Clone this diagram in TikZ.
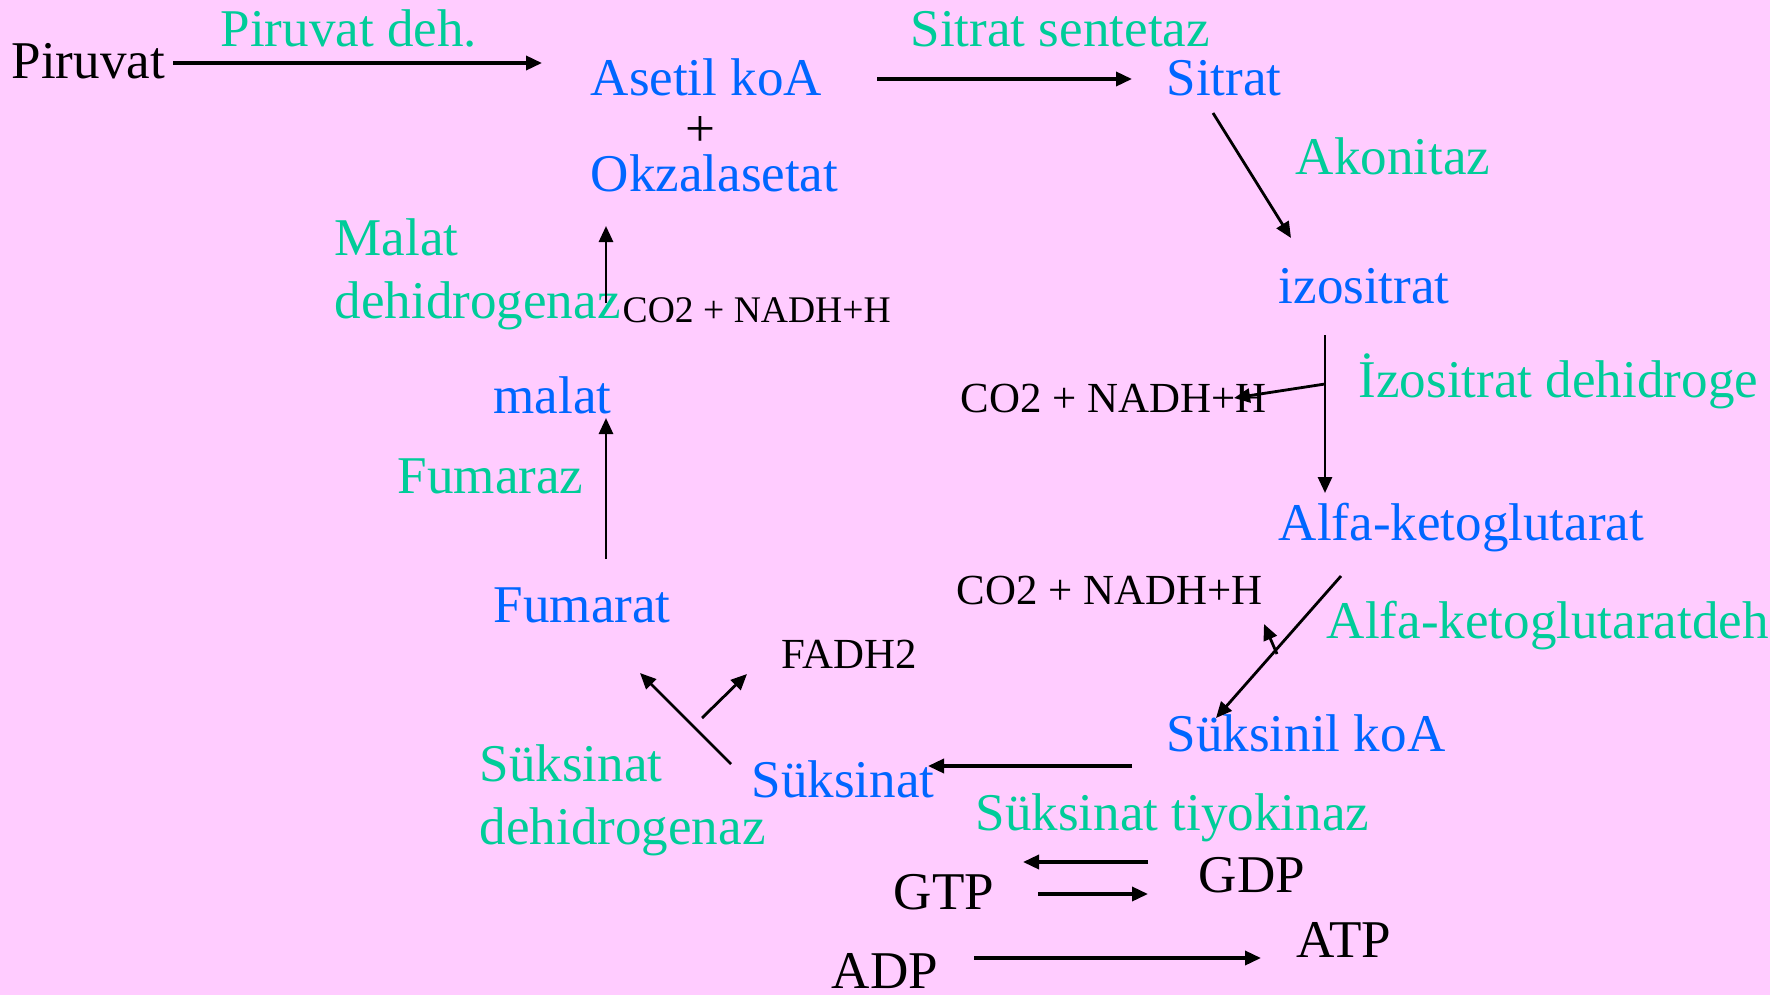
\documentclass[tikz,border=0pt]{standalone}
\usepackage{fontspec}
\setmainfont{Liberation Serif}
\usetikzlibrary{arrows.meta}
\definecolor{bg}{HTML}{FFCCFF}
\definecolor{met}{HTML}{0066FF}
\definecolor{enz}{HTML}{00CC99}

\begin{document}
\begin{tikzpicture}[x=0.1mm,y=-0.1mm,>={Triangle[length=1.6mm,width=1.4mm]},
  lbl/.style={anchor=base west,inner sep=0pt,font=\fontsize{15.1pt}{17.9pt}\selectfont},
  metab/.style={lbl,text=met},
  enzym/.style={lbl,text=enz},
  side/.style={lbl,font=\fontsize{12.2pt}{14pt}\selectfont},
  rxn/.style={->,line width=0.8pt},
  rxnbold/.style={->,line width=1pt}]
\fill[bg] (0,0) rectangle (1770,995);
\useasboundingbox (0,0) rectangle (1770,995);
% metabolites
\node[lbl] (piruvat) at (11,79) {Piruvat};
\node[metab] (asetil) at (590,96) {Asetil koA};
\node[lbl,anchor=base] (plus) at (700,146) {+};
\node[metab] (okzal) at (590,192) {Okzalasetat};
\node[metab] (sitrat) at (1166,96) {Sitrat};
\node[metab] (izo) at (1278,303) {izositrat};
\node[metab] (alfa) at (1278,540) {Alfa-ketoglutarat};
\node[metab] (suksinil) at (1166,751) {Süksinil koA};
\node[metab] (suksinat) at (751,797) {Süksinat};
\node[metab] (fumarat) at (493,622) {Fumarat};
\node[metab] (malat) at (493,413) {malat};
% enzymes
\node[enzym] (pdh) at (220,47) {Piruvat deh.};
\node[enzym] (cs) at (910,47) {Sitrat sentetaz};
\node[enzym] (akon) at (1295,175) {Akonitaz};
\node[enzym] (idh) at (1358,397) {İzositrat dehidroge};
\node[enzym] (akgdh) at (1326,638) {Alfa-ketoglutaratdeh};
\node[enzym] (stk) at (975,830) {Süksinat tiyokinaz};
\node[enzym] (sdh) at (479,781) {Süksinat};
\node[enzym] (sdhb) at (479,844) {dehidrogenaz};
\node[enzym] (fum) at (397,493) {Fumaraz};
\node[enzym] (mdh) at (334,255) {Malat};
\node[enzym] (mdhb) at (334,318) {dehidrogenaz};
% side products
\node[side] (co2a) at (960,412) {CO2 + NADH+H};
\node[side] (co2b) at (956,604) {CO2 + NADH+H};
\node[side,font=\fontsize{10.7pt}{12pt}\selectfont] (co2c) at (622,322) {CO2 + NADH+H};
\node[side] (fadh) at (781,668) {FADH2};
\node[lbl] (gtp) at (893,909) {GTP};
\node[lbl] (gdp) at (1198,892) {GDP};
\node[lbl] (adp) at (831,988) {ADP};
\node[lbl] (atp) at (1296,957) {ATP};
% arrow ends
\coordinate (a1) at (173,63);   \coordinate (a2) at (542,63);
\coordinate (b1) at (877,79);   \coordinate (b2) at (1132,79);
\coordinate (c1) at (1213,113); \coordinate (c2) at (1291,238);
\coordinate (d1) at (1325,335); \coordinate (d2) at (1325,493);
\coordinate (d3) at (1325,384); \coordinate (d4) at (1234,398);
\coordinate (e1) at (1341,576); \coordinate (e2) at (1216,718);
\coordinate (e3) at (1277,654); \coordinate (e4) at (1264,624);
\coordinate (f1) at (1132,766); \coordinate (f2) at (928,766);
\coordinate (g1) at (1148,862); \coordinate (g2) at (1023,862);
\coordinate (g3) at (1038,894); \coordinate (g4) at (1148,894);
\coordinate (h1) at (974,958);  \coordinate (h2) at (1261,958);
\coordinate (k1) at (731,764);  \coordinate (k2) at (640,673);
\coordinate (k3) at (702,718);  \coordinate (k4) at (747,674);
\coordinate (m1) at (606,559);  \coordinate (m2) at (606,418);
\coordinate (n1) at (606,303);  \coordinate (n2) at (606,226);
% cycle steps
\draw[rxnbold] (a1) -- (a2);
\draw[rxnbold] (b1) -- (b2);
\draw[rxn] (c1) -- (c2);
\draw[rxn] (d1) -- (d2);
\draw[rxn] (d3) -- (d4);
\draw[rxn] (e1) -- (e2);
\draw[rxn] (e3) -- (e4);
\draw[rxnbold] (f1) -- (f2);
\draw[rxnbold] (g1) -- (g2);
\draw[rxnbold] (g3) -- (g4);
\draw[rxnbold] (h1) -- (h2);
\draw[rxn] (k1) -- (k2);
\draw[rxn] (k3) -- (k4);
\draw[rxn] (m1) -- (m2);
\draw[rxn] (n1) -- (n2);
\end{tikzpicture}
\end{document}
